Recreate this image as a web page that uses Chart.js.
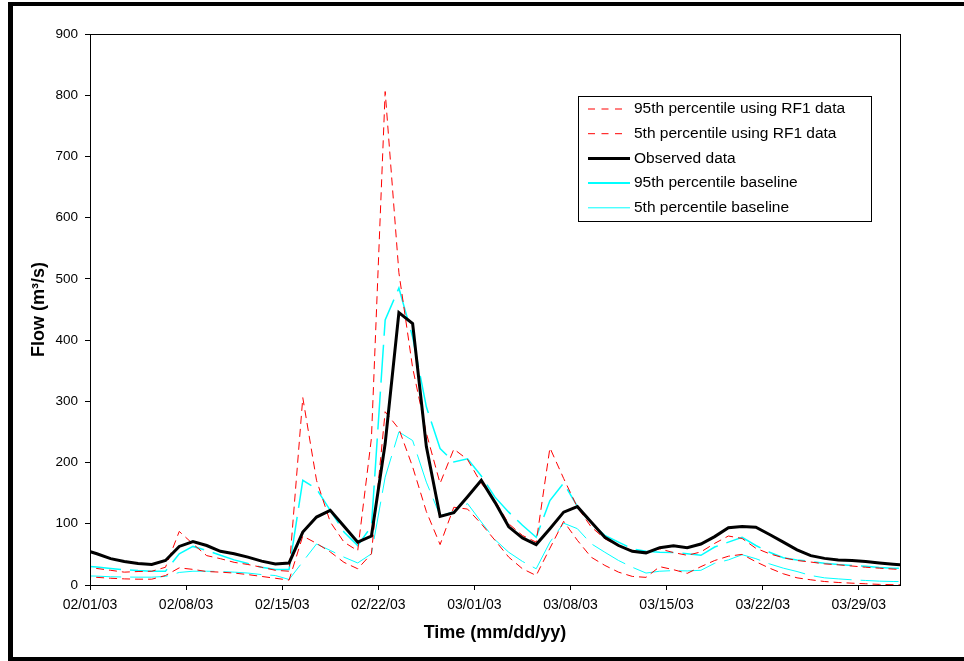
<!DOCTYPE html>
<html>
<head>
<meta charset="utf-8">
<title>Flow</title>
<script src="https://cdn.jsdelivr.net/npm/chart.js@4.4.0/dist/chart.umd.min.js"></script>
<style>
    html, body { margin: 0; padding: 0; background: #fff; }
    #wrap { position: relative; width: 964px; height: 661px; }
</style>
</head>
<body>
<div id="wrap"><canvas id="myChart" width="964" height="661"></canvas></div>
<script>
// one value per day, read at noon; first value is 01/31/03, last is 04/01/03
var tickLabels = ["02/01/03", "02/08/03", "02/15/03", "02/22/03", "03/01/03", "03/08/03", "03/15/03", "03/22/03", "03/29/03"];

var observed = [58, 51, 43, 38.5, 35, 33.5, 40, 63, 71, 64.5, 55, 51, 45.5, 39, 34.5, 36, 86.5, 111, 122, 96, 70, 80, 231, 445, 427, 226, 112, 118, 144, 171, 135, 95, 77, 66, 92, 119, 128, 103, 78, 64.5, 55, 52.5, 61, 64, 61, 67, 79, 93.5, 95.5, 94.5, 82.5, 70, 57.5, 48, 43.5, 41, 40, 38.5, 36, 34, 32];
var rf1High = [29, 27, 24, 21, 22, 22.5, 29, 87.5, 67, 48, 43, 37, 33.5, 29, 24, 22.5, 306, 171, 103, 70, 56, 240, 806, 510, 355, 248, 166, 222, 205, 166, 138, 100, 81, 70, 224, 174, 127, 95, 75.5, 63.5, 56.5, 53.5, 59, 53, 48.5, 54, 68, 80, 76, 60, 51, 44.5, 40, 37.5, 34.5, 33, 31, 29, 27.5, 26, 25];
var rf1Low = [14, 12.5, 11, 10, 9.5, 9.5, 15.5, 28, 25.5, 22, 21, 19.5, 17, 14, 11, 8, 80, 68, 54, 37, 26.5, 51, 283, 255, 193, 120, 66, 127, 124, 100, 73, 45.5, 26.5, 15.5, 60, 104, 73, 45.5, 32, 21, 14, 12.5, 30, 25, 19, 30, 40, 47, 50, 38, 27.5, 18.3, 11.7, 8.5, 5.7, 4.1, 3, 2, 1, 0.5, 0.2];
var baseHigh = [31, 29.5, 27, 25, 23.5, 22.5, 22.5, 51, 63, 56.5, 48.5, 41, 35, 29, 25.5, 25.5, 171, 157, 122, 86.5, 64.5, 96, 433, 485, 405, 291, 223, 201, 206, 178, 143.5, 119, 97.5, 78, 138, 166.5, 128.5, 101, 81, 70, 59, 55, 53.5, 53, 51, 48.5, 62, 70, 78, 64.5, 53.5, 44.5, 41, 38.5, 35.5, 33.5, 32, 30.5, 28.5, 27.5, 27];
var baseLow = [15, 14.5, 13.5, 13, 12.8, 12.8, 14, 20.5, 22.5, 22.5, 22, 21, 19.5, 17, 15.5, 9, 38, 67, 56.5, 45.5, 36, 51, 176, 250, 236, 168, 113, 120, 133, 103, 74, 53.5, 38.5, 26.5, 70, 101, 92, 67.5, 53.5, 40, 29, 19.5, 22.5, 23.5, 23, 24, 35.5, 41, 49.5, 43, 34.5, 27.5, 22, 15.5, 11.7, 10, 8.5, 7.4, 6.3, 5.7, 5.5];

var fontFamily = "'Liberation Sans', Arial, sans-serif";

// x in days after 02/01/03 00:00, values sit at noon
function toPoints(values) {
    return values.map(function (v, i) {
        return { x: i - 0.5, y: v };
    });
}

var legendBox = {
    id: "legendBox",
    afterDraw: function (chart) {
        var ctx = chart.ctx;
        ctx.save();
        ctx.fillStyle = "#fff";
        ctx.fillRect(578.5, 96.5, 293, 125);
        ctx.strokeStyle = "#000";
        ctx.lineWidth = 1;
        ctx.strokeRect(578.5, 96.5, 293, 125);
        chart.data.datasets.forEach(function (ds, i) {
            var y = 109 + i * 24.7;
            ctx.beginPath();
            ctx.strokeStyle = ds.borderColor;
            ctx.lineWidth = ds.legendWidth;
            ctx.setLineDash(ds.legendDash);
            ctx.moveTo(588, y);
            ctx.lineTo(ds.legendDash.length ? 624 : 630, y);
            ctx.stroke();
            ctx.setLineDash([]);
            ctx.fillStyle = "#000";
            ctx.font = "15.5px " + fontFamily;
            ctx.textBaseline = "middle";
            ctx.textAlign = "left";
            ctx.fillText(ds.label, 634, y);
        });
        ctx.restore();
    }
};

var frame = {
    id: "frame",
    beforeDraw: function (chart) {
        var ctx = chart.ctx;
        ctx.save();
        ctx.fillStyle = "#fff";
        ctx.fillRect(0, 0, chart.width, chart.height);
        ctx.restore();
    },
    afterDraw: function (chart) {
        var ctx = chart.ctx;
        var a = chart.chartArea;
        ctx.save();
        ctx.strokeStyle = "#000";
        ctx.lineWidth = 1;
        ctx.strokeRect(Math.round(a.left) + 0.5, Math.round(a.top) + 0.5, Math.round(a.right - a.left), Math.round(a.bottom - a.top));
        ctx.fillStyle = "#000";
        ctx.fillRect(8, 2, chart.width - 8, 4);
        ctx.fillRect(8, 2, 5, chart.height - 2);
        ctx.fillRect(8, 657, chart.width - 8, 4);
        ctx.restore();
    }
};

var ctx = document.getElementById("myChart").getContext("2d");
var myChart = new Chart(ctx, {
    type: "line",
    data: {
        datasets: [
            {
                label: "95th percentile using RF1 data",
                data: toPoints(rf1High),
                borderColor: "#ff0000",
                borderWidth: 1,
                borderDash: [8, 5],
                legendDash: [7, 6.5],
                legendWidth: 1,
                order: 1,
            },
            {
                label: "5th percentile using RF1 data",
                data: toPoints(rf1Low),
                borderColor: "#ff0000",
                borderWidth: 1,
                borderDash: [8, 5],
                legendDash: [7, 6.5],
                legendWidth: 1,
                order: 1,
            },
            {
                label: "Observed data",
                data: toPoints(observed),
                borderColor: "#000000",
                borderWidth: 3,
                legendDash: [],
                legendWidth: 3,
                order: 0,
            },
            {
                label: "95th percentile baseline",
                data: toPoints(baseHigh),
                borderColor: "#00ffff",
                borderWidth: 1.5,
                borderDash: [38, 9],
                legendDash: [],
                legendWidth: 2,
                order: 2,
            },
            {
                label: "5th percentile baseline",
                data: toPoints(baseLow),
                borderColor: "#00ffff",
                borderWidth: 1,
                borderDash: [38, 9],
                legendDash: [],
                legendWidth: 1,
                order: 2,
            },
        ],
    },
    options: {
        responsive: false,
        animation: false,
        devicePixelRatio: 1,
        layout: { padding: { top: 34, right: 64, left: 0, bottom: 0 } },
        elements: {
            point: { radius: 0, hoverRadius: 0 },
            line: { tension: 0, borderCapStyle: "butt" },
        },
        plugins: {
            legend: { display: false },
            tooltip: { enabled: false },
        },
        scales: {
            x: {
                type: "linear",
                min: 0,
                max: 59,
                afterBuildTicks: function (scale) {
                    scale.ticks = tickLabels.map(function (t, i) {
                        return { value: i * 7 };
                    });
                },
                afterFit: function (scale) {
                    scale.height = 76;
                },
                ticks: {
                    autoSkip: false,
                    maxRotation: 0,
                    padding: 7,
                    color: "#000",
                    font: { family: fontFamily, size: 14 },
                    callback: function (value) {
                        return tickLabels[Math.round(value / 7)];
                    },
                },
                grid: { drawOnChartArea: false, tickLength: 5, color: "#000" },
                border: { color: "#000", width: 1 },
                title: {
                    display: true,
                    text: "Time (mm/dd/yy)",
                    color: "#000",
                    font: { family: fontFamily, size: 18, weight: "bold" },
                    padding: { top: 0, bottom: 17 },
                },
            },
            y: {
                min: 0,
                max: 900,
                afterFit: function (scale) {
                    scale.width = 90;
                },
                ticks: {
                    stepSize: 100,
                    padding: 7,
                    color: "#000",
                    font: { family: fontFamily, size: 13.5 },
                },
                grid: { drawOnChartArea: false, tickLength: 5, color: "#000" },
                border: { color: "#000", width: 1 },
                title: {
                    display: true,
                    text: "Flow (m³/s)",
                    color: "#000",
                    font: { family: fontFamily, size: 18, weight: "bold" },
                    padding: { top: 28, bottom: 0 },
                },
            },
        },
    },
    plugins: [frame, legendBox],
});
</script>
</body>
</html>
